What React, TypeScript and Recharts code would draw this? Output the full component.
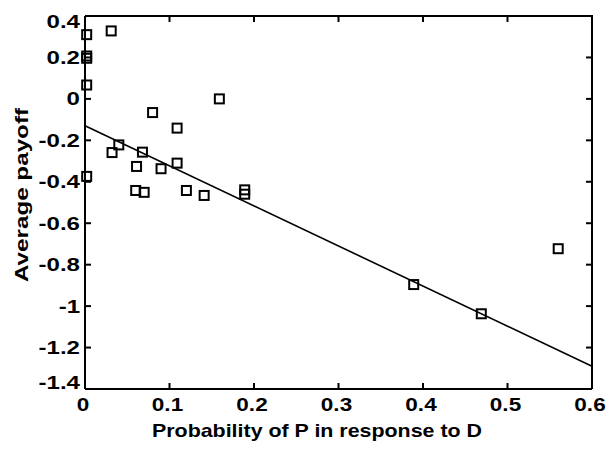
import React from 'react';
import { ScatterChart, Scatter, XAxis, YAxis } from 'recharts';

const xValues = [0.002, 0.002, 0.002, 0.002, 0.002, 0.031, 0.032, 0.040, 0.060, 0.061, 0.068, 0.070, 0.080, 0.090, 0.109, 0.109, 0.120, 0.141, 0.159, 0.189, 0.189, 0.389, 0.469, 0.560];
const yValues = [0.31, 0.207, 0.196, 0.067, -0.374, 0.328, -0.259, -0.222, -0.442, -0.326, -0.257, -0.451, -0.066, -0.337, -0.141, -0.31, -0.442, -0.466, 0.0, -0.439, -0.46, -0.896, -1.037, -0.723];

const fitIntercept = -0.13;
const fitSlope = -1.933;

const xTicks = [0, 0.1, 0.2, 0.3, 0.4, 0.5, 0.6];
const yTicks = [0.4, 0.2, 0, -0.2, -0.4, -0.6, -0.8, -1, -1.2, -1.4];

const xTitle = 'Probability of P in response to D';
const yTitle = 'Average payoff';

const X_MIN = xTicks[0];
const X_MAX = xTicks[xTicks.length - 1];
const Y_MAX = yTicks[0];
const Y_MIN = yTicks[yTicks.length - 1];

const points = xValues.map((x, i) => ({ x, y: yValues[i] }));
const fitLine = [
  { x: X_MIN, y: fitIntercept + fitSlope * X_MIN },
  { x: X_MAX, y: fitIntercept + fitSlope * X_MAX },
];
// top and right edges of the axes box
const frame = [
  { x: X_MIN, y: Y_MAX },
  { x: X_MAX, y: Y_MAX },
  { x: X_MAX, y: Y_MIN },
];
const bottomTicks = xTicks.map((x) => ({ x, y: Y_MIN }));
const topTicks = xTicks.map((x) => ({ x, y: Y_MAX }));
const leftTicks = yTicks.map((y) => ({ x: X_MIN, y }));
const rightTicks = yTicks.map((y) => ({ x: X_MAX, y }));

const W = 609;
const H = 451;
const MARGIN = { top: 16, right: 17, bottom: 32, left: 25 };
const X_AXIS_H = 30;
const Y_AXIS_W = 60;
const PLOT_BOTTOM = H - MARGIN.bottom - X_AXIS_H;
const PLOT_LEFT = MARGIN.left + Y_AXIS_W;
const TICK_LEN = 6;

const FONT = '"Liberation Sans", Arial, sans-serif';
const FS = 18.5;

const fmt = (v: number) => String(parseFloat(v.toFixed(2)));

const YTick = (props: any) => {
  const { y, payload } = props;
  const v = payload.value;
  let off = 0;
  if (v === Y_MAX) off = 6;
  if (v === Y_MIN) off = -6;
  return (
    <g transform={`translate(${PLOT_LEFT - 5},${y + off}) scale(1.3,1)`}>
      <text x={0} y={0} dy="0.35em" textAnchor="end" fontFamily={FONT} fontWeight="bold" fontSize={FS} fill="#000">
        {fmt(v)}
      </text>
    </g>
  );
};

const XTick = (props: any) => {
  const { x, payload } = props;
  return (
    <g transform={`translate(${x - 2},${PLOT_BOTTOM + 9}) scale(1.22,1)`}>
      <text x={0} y={0} dy="0.716em" textAnchor="middle" fontFamily={FONT} fontWeight="bold" fontSize={FS} fill="#000">
        {fmt(payload.value)}
      </text>
    </g>
  );
};

const Square = (props: any) => {
  const { cx, cy } = props;
  if (cx == null || cy == null) return <g />;
  return <rect x={cx - 4.5} y={cy - 4.5} width={9} height={9} fill="none" stroke="#000" strokeWidth={2} />;
};

const makeTickMark = (dx: number, dy: number) => (props: any) => {
  const { cx, cy } = props;
  if (cx == null || cy == null) return <g />;
  return <line x1={cx} y1={cy} x2={cx + dx * TICK_LEN} y2={cy + dy * TICK_LEN} stroke="#000" strokeWidth={2} />;
};
const TickUp = makeTickMark(0, -1);
const TickDown = makeTickMark(0, 1);
const TickRight = makeTickMark(1, 0);
const TickLeft = makeTickMark(-1, 0);

const NoShape = () => <g />;

const XTitle = () => (
  <text
    x={317}
    y={437}
    textAnchor="middle"
    fontFamily={FONT}
    fontWeight="bold"
    fontSize={FS}
    fill="#000"
    textLength={330}
    lengthAdjust="spacingAndGlyphs"
  >
    {xTitle}
  </text>
);

const YTitle = () => (
  <text
    x={0}
    y={0}
    transform="translate(28,195) rotate(-90)"
    textAnchor="middle"
    fontFamily={FONT}
    fontWeight="bold"
    fontSize={FS}
    fill="#000"
    textLength={174}
    lengthAdjust="spacingAndGlyphs"
  >
    {yTitle}
  </text>
);

const axisLine = { stroke: '#000', strokeWidth: 2 };
const hiddenTickLine = { stroke: 'none' };

export default function App() {
  return (
    <div style={{ position: 'absolute', left: 0, top: 0, width: W, height: H, background: '#fff' }}>
      <ScatterChart width={W} height={H} margin={MARGIN}>
        <XAxis
          dataKey="x"
          type="number"
          domain={[X_MIN, X_MAX]}
          ticks={xTicks}
          height={X_AXIS_H}
          axisLine={axisLine}
          tickLine={hiddenTickLine}
          tick={<XTick />}
          label={<XTitle />}
        />
        <YAxis
          dataKey="y"
          type="number"
          domain={[Y_MIN, Y_MAX]}
          ticks={yTicks}
          width={Y_AXIS_W}
          axisLine={axisLine}
          tickLine={hiddenTickLine}
          tick={<YTick />}
          label={<YTitle />}
        />
        <Scatter
          data={frame}
          line={{ stroke: '#000', strokeWidth: 2 }}
          shape={<NoShape />}
          isAnimationActive={false}
        />
        <Scatter data={bottomTicks} shape={<TickUp />} isAnimationActive={false} />
        <Scatter data={topTicks} shape={<TickDown />} isAnimationActive={false} />
        <Scatter data={leftTicks} shape={<TickRight />} isAnimationActive={false} />
        <Scatter data={rightTicks} shape={<TickLeft />} isAnimationActive={false} />
        <Scatter
          data={fitLine}
          line={{ stroke: '#000', strokeWidth: 1.6 }}
          shape={<NoShape />}
          isAnimationActive={false}
        />
        <Scatter data={points} shape={<Square />} isAnimationActive={false} />
      </ScatterChart>
    </div>
  );
}
